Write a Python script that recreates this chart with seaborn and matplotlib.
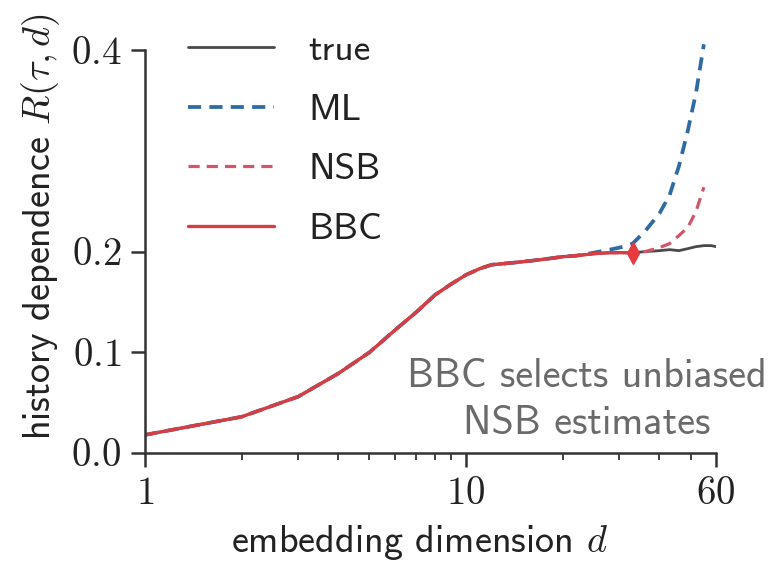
import matplotlib
matplotlib.use("Agg")
import matplotlib.pyplot as plt
import seaborn as sns
import numpy as np

# ---- data ----
d_true = [1, 2, 3, 4, 5, 6, 7, 8, 9, 10, 11, 12, 14, 16, 18, 20, 22, 25, 28, 31, 33, 36, 40, 43, 46, 49, 52, 55, 58, 60]
R_true = [0.018, 0.036, 0.056, 0.079, 0.100, 0.122, 0.140, 0.157, 0.168, 0.177, 0.183, 0.187, 0.189,
          0.191, 0.193, 0.195, 0.196, 0.198, 0.199, 0.199, 0.199, 0.200, 0.201, 0.202, 0.201, 0.203,
          0.205, 0.206, 0.206, 0.205]

d_est = [1, 2, 3, 4, 5, 6, 7, 8, 9, 10, 11, 12, 14, 16, 18, 20, 22, 25, 28, 31, 33, 36, 40, 43, 46, 49, 52, 55]
R_ML = [0.018, 0.036, 0.056, 0.079, 0.100, 0.122, 0.140, 0.157, 0.168, 0.177, 0.183, 0.187, 0.189,
        0.191, 0.193, 0.195, 0.196, 0.199, 0.202, 0.205, 0.208, 0.220, 0.238, 0.256, 0.285, 0.320,
        0.358, 0.406]
R_NSB = [0.018, 0.036, 0.056, 0.079, 0.100, 0.122, 0.140, 0.157, 0.168, 0.177, 0.183, 0.187, 0.189,
         0.191, 0.193, 0.195, 0.196, 0.198, 0.199, 0.199, 0.199, 0.200, 0.204, 0.208, 0.216, 0.224,
         0.240, 0.264]

d_BBC = [1, 2, 3, 4, 5, 6, 7, 8, 9, 10, 11, 12, 14, 16, 18, 20, 22, 25, 28, 31, 33]
R_BBC = [0.018, 0.036, 0.056, 0.079, 0.100, 0.122, 0.140, 0.157, 0.168, 0.177, 0.183, 0.187, 0.189,
         0.191, 0.193, 0.195, 0.196, 0.198, 0.199, 0.199, 0.199]

x_ticks = [1, 10, 60]
x_ticklabels = ["$1$", "$10$", "$60$"]
y_ticks = [0.0, 0.1, 0.2, 0.4]
y_ticklabels = ["$0.0$", "$0.1$", "$0.2$", "$0.4$"]

sns.set_style("ticks")
plt.rcParams["mathtext.fontset"] = "cm"
plt.rcParams["font.family"] = ["cmss10", "DejaVu Sans"]
plt.rcParams["axes.formatter.use_mathtext"] = True

axis_col = "#333333"
fig = plt.figure(figsize=(7.73, 5.63), dpi=100)
ax = fig.add_axes([145 / 773, 1 - 453 / 563, (716 - 145) / 773, 453 / 563])

c_true = "#4a4a4a"
c_ml = "#2f6aa3"
c_nsb = "#d0566a"
c_bbc = "#d43f45"

sns.lineplot(x=d_true, y=R_true, ax=ax, color=c_true, lw=2.0, label="true")
sns.lineplot(x=d_est, y=R_ML, ax=ax, color=c_ml, lw=2.7, linestyle=(0, (3.5, 2.2)), label="ML")
sns.lineplot(x=d_est, y=R_NSB, ax=ax, color=c_nsb, lw=2.3, linestyle=(0, (3.5, 2.2)), label="NSB")
sns.lineplot(x=d_BBC, y=R_BBC, ax=ax, color=c_bbc, lw=2.4, label="BBC")
ax.plot([d_BBC[-1]], [R_BBC[-1]], marker="d", color="#e53a3f", markersize=11, zorder=5)

ax.set_xscale("log")
ax.set_xlim(1, 60)
ax.set_ylim(0, 0.45)
ax.set_xticks(x_ticks)
ax.set_xticklabels(x_ticklabels)
ax.set_yticks(y_ticks)
ax.set_yticklabels(y_ticklabels)
ax.minorticks_on()
ax.yaxis.set_minor_locator(matplotlib.ticker.NullLocator())

for s in ["top", "right"]:
    ax.spines[s].set_visible(False)
ax.spines["left"].set_bounds(0, 0.4)
for s in ["left", "bottom"]:
    ax.spines[s].set_color(axis_col)
    ax.spines[s].set_linewidth(1.8)

ax.tick_params(axis="both", which="major", labelsize=28, length=10, width=1.8,
               color=axis_col, labelcolor="#222222", pad=7)
ax.tick_params(axis="x", which="minor", length=5, width=1.3, color=axis_col)

ax.set_xlabel(r"embedding dimension $d$", fontsize=27.5, color="#222222", labelpad=3)
ax.xaxis.set_label_coords(0.48, -0.155)
ax.set_ylabel(r"history dependence $R(\tau,d)$", fontsize=27.5, color="#222222", labelpad=6)

ax.text(0.774, 0.117, "BBC selects unbiased\nNSB estimates", transform=ax.transAxes,
        ha="center", va="center", fontsize=29, color="#6a6a6a", linespacing=1.36)

leg = ax.legend(loc="upper left", bbox_to_anchor=(188 / 773, 1 - 34 / 563),
                bbox_transform=fig.transFigure, frameon=False, fontsize=27,
                handlelength=2.3, handletextpad=0.9, labelspacing=0.7, borderpad=0,
                borderaxespad=0)
for t in leg.get_texts():
    t.set_color("#222222")

fig.savefig("out.png", dpi=100)
